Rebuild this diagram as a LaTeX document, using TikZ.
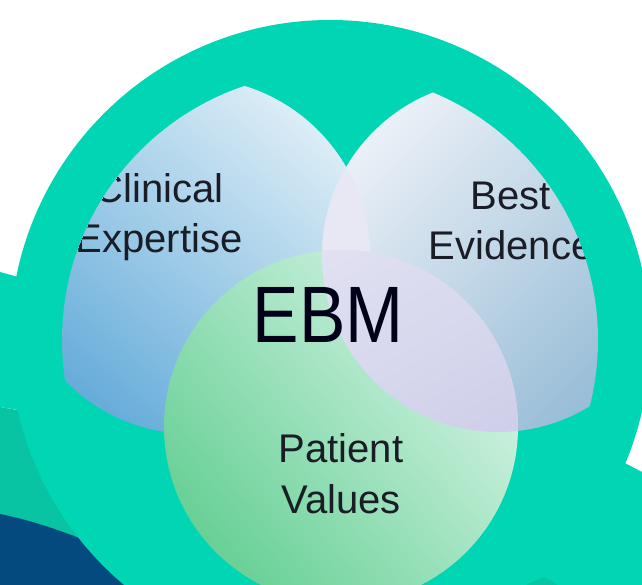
\documentclass[tikz,border=0pt]{standalone}
\usepackage{fontspec}
\setmainfont{Liberation Sans}
\begin{document}
\begin{tikzpicture}[x=1pt,y=-1pt]
                \def\rout{320}
                \def\rin{268}
                \definecolor{tealmain}{RGB}{0,214,180}
                \definecolor{tealdark}{RGB}{8,196,162}
                \definecolor{navyblue}{RGB}{4,74,126}
                \definecolor{ink}{RGB}{26,28,38}
                \definecolor{clinlight}{RGB}{220,237,246}
                \definecolor{clindark}{RGB}{102,172,218}
                \definecolor{bestlight}{RGB}{235,240,247}
                \definecolor{bestdark}{RGB}{150,188,214}
                \definecolor{patlight}{RGB}{214,244,230}
                \definecolor{patdark}{RGB}{104,208,150}
                \definecolor{lavpale}{RGB}{232,232,245}
                \definecolor{lavlight}{RGB}{226,226,243}
                \definecolor{lavdark}{RGB}{200,200,230}
                \useasboundingbox (0,0) rectangle (642,585);
                \fill[white] (0,0) rectangle (642,585);
                \fill[tealmain] (0,272) -- (80,294) -- (80,420) -- (0,407) -- cycle;
                \fill[tealdark] (0,407) -- (80,421) -- (150,585) -- (0,585) -- cycle;
                \fill[navyblue] (0,514) .. controls (30,520) and (60,530) .. (100,546) -- (140,585) -- (0,585) -- cycle;
                \fill[tealmain] (600,450) -- (642,472) -- (642,585) -- (480,585) -- cycle;
                \fill[tealmain] (330,340) circle (\rout);
                \fill[tealdark] (526,585) -- (544,577) -- (558,585) -- cycle;
                \begin{scope}
                    \clip (330,340) circle (\rin);
                    \shade[top color=clinlight,bottom color=clindark,shading angle=-40] (192,256) circle (178);
                    \shade[top color=bestlight,bottom color=bestdark,shading angle=45] (498,256) circle (176);
                    \begin{scope}
                        \clip (192,256) circle (178);
                        \fill[lavpale] (498,256) circle (176);
                    \end{scope}
                    \shade[top color=patlight,bottom color=patdark,shading angle=-50] (341,427) circle (177);
                    \begin{scope}
                        \clip (498,256) circle (176);
                        \shade[top color=lavlight,bottom color=lavdark,shading angle=30] (341,427) circle (177);
                    \end{scope}
                    \node[anchor=base,align=center,text=ink,font=\fontsize{40}{50.5}\selectfont] (clinical) at (159,253) {Clinical\\Expertise};
                    \node[anchor=base,align=center,text=ink,font=\fontsize{40}{50.5}\selectfont] (best) at (511,260) {Best\\Evidence};
                    \node[anchor=base,align=center,text=ink,font=\fontsize{40}{50.5}\selectfont] (patient) at (341,513) {Patient\\Values};
                    \node[anchor=base,text=black!90!blue,font=\fontsize{80}{80}\selectfont] (ebm) at (328,342) {\scalebox{0.87}[1]{EBM}};
                \end{scope}
            \end{tikzpicture}
\end{document}
